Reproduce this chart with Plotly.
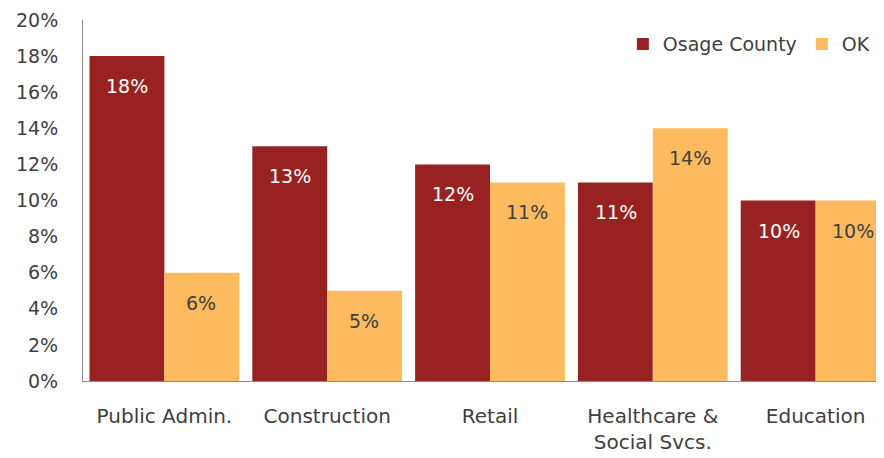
import plotly.graph_objects as go

categories = ["Public Admin.", "Construction", "Retail", "Healthcare &<br>Social Svcs.", "Education"]
osage = [18, 13, 12, 11, 10]
ok = [6, 5, 11, 14, 10]
tick_vals = [0, 2, 4, 6, 8, 10, 12, 14, 16, 18, 20]
tick_text = [f"{v}%" for v in tick_vals]

FONT = "DejaVu Sans"
TXT = "#404040"
RED = "#982222"
YEL = "#FDBA5E"

fig = go.Figure()
fig.add_bar(name="Osage County", x=categories, y=osage, marker_color=RED, marker_line_width=0)
fig.add_bar(name="OK", x=categories, y=ok, marker_color=YEL, marker_line_width=0)

annotations = []
for cat, v in zip(categories, osage):
    annotations.append(dict(x=cat, y=v, xref="x", yref="y", text=f"{v}%", showarrow=False,
                            xshift=-37, yshift=-30, yanchor="middle",
                            font=dict(color="white", size=19, family=FONT)))
for cat, v in zip(categories, ok):
    annotations.append(dict(x=cat, y=v, xref="x", yref="y", text=f"{v}%", showarrow=False,
                            xshift=37, yshift=-30, yanchor="middle",
                            font=dict(color=TXT, size=19, family=FONT)))

fig.update_layout(
    width=876, height=450,
    margin=dict(l=75, r=0, t=12, b=77),
    paper_bgcolor="white", plot_bgcolor="white",
    barmode="group", bargap=0.08, bargroupgap=0,
    font=dict(family=FONT, size=19, color=TXT),
    annotations=annotations,
    legend=dict(orientation="h", x=0.674, xanchor="left", y=0.933, yanchor="middle",
                font=dict(size=19, color=TXT), itemwidth=30, bgcolor="rgba(0,0,0,0)"),
    showlegend=True,
)
fig.update_xaxes(
    range=[-0.5, 4.42], showline=True, linecolor="#8c8c8c", linewidth=1,
    ticks="", ticklabelstandoff=17, tickfont=dict(size=20, color=TXT),
    showgrid=False, automargin=False, tickangle=0,
)
fig.update_yaxes(
    range=[0, 20], tickvals=tick_vals, ticktext=tick_text,
    showline=True, linecolor="#8c8c8c", linewidth=1, showgrid=False,
    zeroline=False, ticks="", ticklabelstandoff=20, automargin=False,
    tickfont=dict(size=19, color=TXT),
)

fig.write_html("out.html")
